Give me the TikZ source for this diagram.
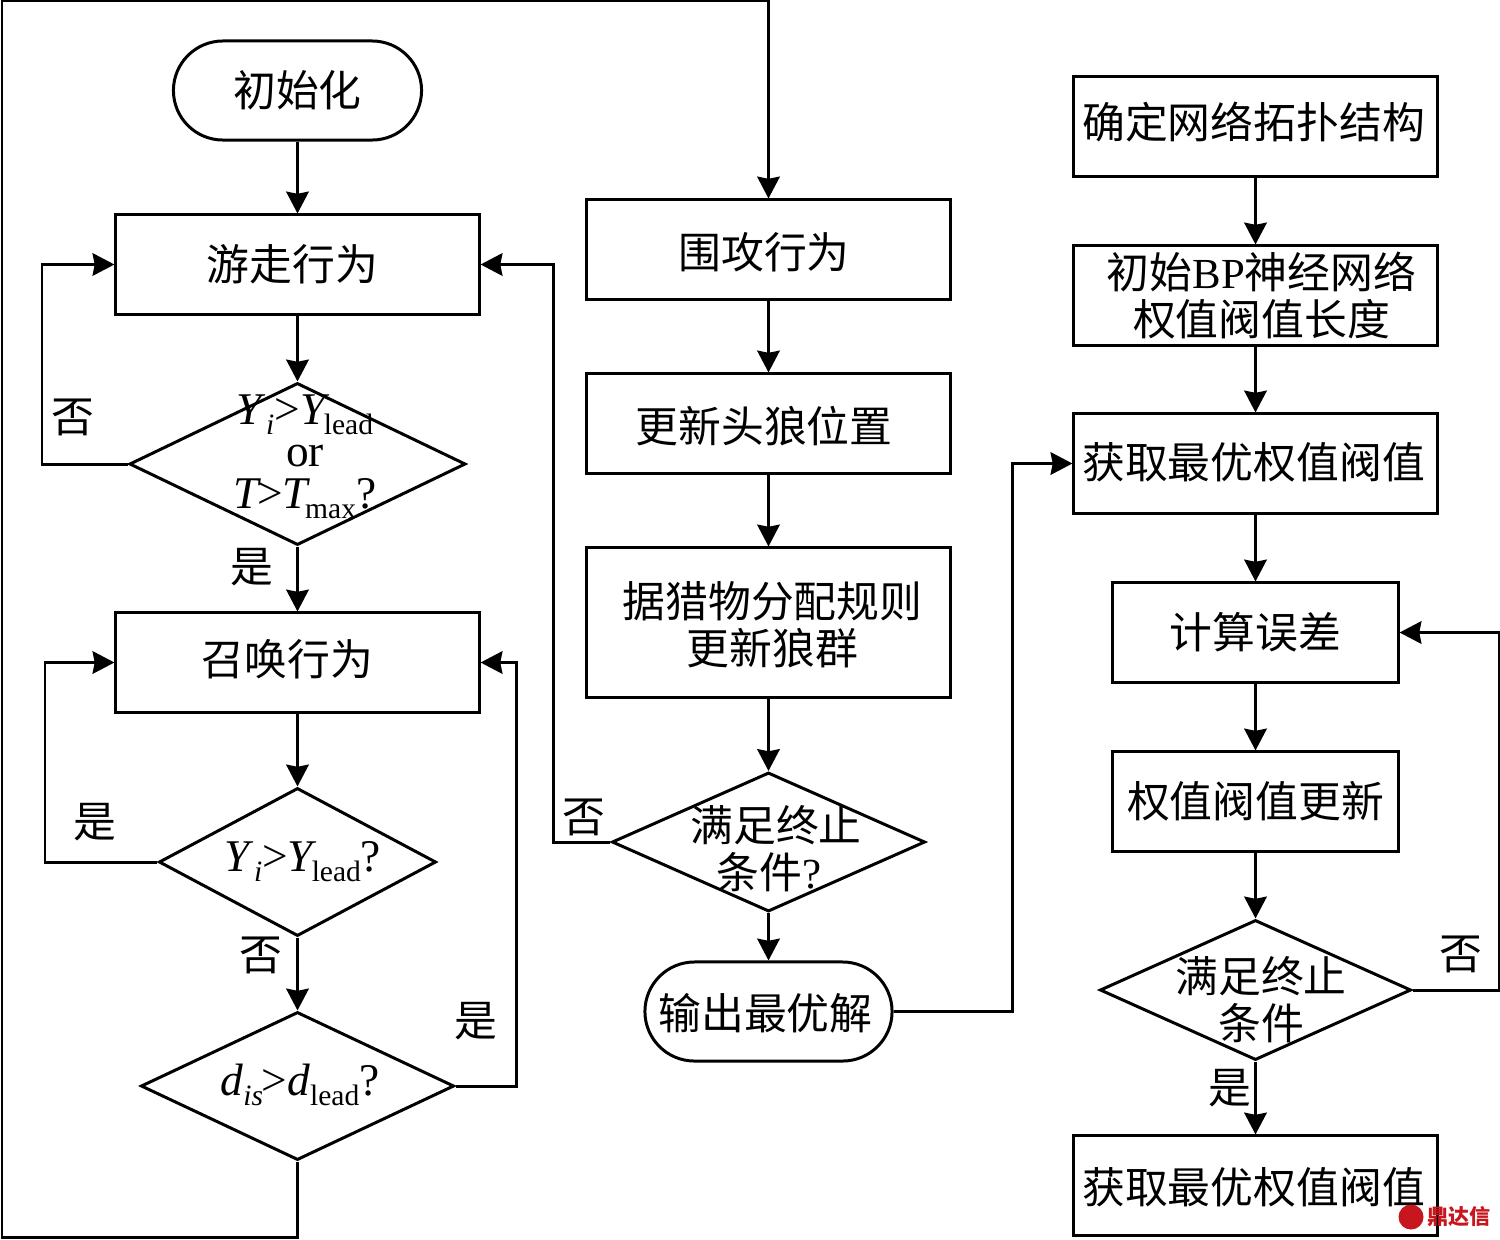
\documentclass[tikz,border=0pt]{standalone}
\usepackage{fontspec}
\setmainfont{Liberation Serif}
\newfontfamily\cnfont{Noto Sans CJK SC}
\usetikzlibrary{arrows.meta,shapes.geometric}
\definecolor{wmred}{RGB}{200,22,30}
\newcommand{\zw}{\cnfont\fontsize{12.18}{13.4}\selectfont}
\newcommand{\xb}[1]{\raisebox{-0.22em}{\fontsize{8.4}{9}\selectfont #1}}
\newcommand{\xbk}[1]{\kern-0.12em\xb{#1}}
\newcommand{\bl}[1]{\textit{#1}}
\newcommand{\dn}[2]{\raisebox{#1}[\height][\depth]{#2}}
\tikzset{
    box/.style={draw, line width=0.85pt, rectangle, minimum width=3.63cm, minimum height=0.99cm, inner sep=0pt, align=center, font=\zw},
    term/.style={box, rounded corners=0.495cm},
    dec/.style={draw, line width=0.85pt, diamond, inner sep=0pt, aspect=2},
    lbl/.style={inner sep=0pt, align=center, font=\zw},
    eqn/.style={inner sep=0pt, align=center, font=\fontsize{12.9}{12}\selectfont},
    arr/.style={-{Stealth[length=6.2pt,width=6.4pt,inset=0.6pt]}, line width=0.85pt}
}
\begin{document}
\begin{tikzpicture}[x=0.01cm,y=-0.01cm]
    \useasboundingbox (0,0) rectangle (1500,1239);
    \node[term, minimum width=2.48cm] (init) at (297.5,90.5) {初始化};
    \node[box] (walk) at (297.5,264.5) {\kern-0.1cm 游走行为};
    \node[dec, minimum width=3.36cm, minimum height=1.62cm] (jd1) at (297.5,464) {};
    \node[box] (call) at (297.5,662.5) {\kern-0.2cm \dn{0.03cm}{召唤行为}};
    \node[dec, minimum width=2.77cm, minimum height=1.48cm] (jd2) at (297.5,862) {};
    \node[dec, minimum width=3.13cm, minimum height=1.48cm] (jd3) at (297.5,1086) {};
    \node[box] (siege) at (768.5,249.5) {\kern-0.09cm \dn{-0.03cm}{围攻行为}};
    \node[box] (head) at (768.5,423.5) {\kern-0.09cm \dn{-0.03cm}{更新头狼位置}};
    \node[box, minimum height=1.49cm] (alloc) at (768.5,622.5) {};
    \node[dec, minimum width=3.13cm, minimum height=1.39cm] (jd4) at (768.5,842) {};
    \node[term, minimum width=2.47cm] (out) at (768.5,1011.5) {\kern-0.06cm \dn{-0.02cm}{输出最优解}};
    \node[box] (net) at (1255.5,126.5) {\kern-0.04cm \dn{0.04cm}{确定网络拓扑结构}};
    \node[box] (bp) at (1255.5,295.5) {\kern0.12cm 初始{\rmfamily BP}神经网络\\\kern0.12cm 权值阀值长度};
    \node[box] (best) at (1255.5,463.5) {\kern-0.04cm \dn{0.01cm}{获取最优权值阀值}};
    \node[box, minimum width=2.85cm] (err) at (1255.5,632.5) {计算误差};
    \node[box, minimum width=2.86cm] (upd) at (1255.5,801.5) {权值阀值更新};
    \node[dec, minimum width=3.11cm, minimum height=1.4cm] (jd5) at (1255.5,990) {};
    \node[box] (last) at (1255.5,1185.5) {\kern-0.04cm \dn{-0.02cm}{获取最优权值阀值}};

    \node[eqn] (t1) at (305,457) {\bl{Y}\xb{\bl{i}}>\bl{Y}\xbk{lead}\\or\\\bl{T}\kern-0.1em>\bl{T}\xbk{max}?};
    \node[eqn] (t2) at (303,862) {\bl{Y}\xb{\bl{i}}>\bl{Y}\xbk{lead}?};
    \node[eqn] (t3) at (300,1085) {\bl{d}\xb{\bl{is}}\kern-0.03em>\bl{d}\xb{lead}?};
    \node[lbl] (t4) at (772,849) {\kern0.08cm 满足终止\\\kern-0.06cm 条件{\rmfamily ?}};
    \node[lbl] (t5) at (1261,999.5) {满足终止\\条件};
    \node[lbl] (t6) at (772.5,625) {据猎物分配规则\\更新狼群};

    \node[lbl] (n1) at (73,417) {否};
    \node[lbl] (y1) at (252,567) {是};
    \node[lbl] (y2) at (95,822) {是};
    \node[lbl] (n2) at (261,955) {否};
    \node[lbl] (y3) at (476,1021) {是};
    \node[lbl] (n3) at (584,817) {否};
    \node[lbl] (n4) at (1461,954) {否};
    \node[lbl] (y4) at (1230,1088) {是};

    \coordinate (c1) at (42,464);
    \coordinate (c2) at (45,862);
    \coordinate (c3) at (516,1086);
    \coordinate (c4) at (553,842);
    \coordinate (c5) at (1012,1011.5);
    \coordinate (c6) at (1499,990);
    \coordinate (r1) at (297.5,1237.5);
    \coordinate (r2) at (2,1237.5);
    \coordinate (r3) at (2,1);
    \coordinate (r4) at (768.5,1);

    \draw[arr] (init) -- (walk);
    \draw[arr] (walk) -- (jd1);
    \draw[arr] (jd1) -- (call);
    \draw[arr] (call) -- (jd2);
    \draw[arr] (jd2) -- (jd3);
    \draw[arr] (siege) -- (head);
    \draw[arr] (head) -- (alloc);
    \draw[arr] (alloc) -- (jd4);
    \draw[arr] (jd4) -- (out);
    \draw[arr] (net) -- (bp);
    \draw[arr] (bp) -- (best);
    \draw[arr] (best) -- (err);
    \draw[arr] (err) -- (upd);
    \draw[arr] (upd) -- (jd5);
    \draw[arr] (jd5) -- (last);
    \draw[arr] (jd1.west) -- (c1) |- (walk.west);
    \draw[arr] (jd2.west) -- (c2) |- (call.west);
    \draw[arr] (jd3.east) -- (c3) |- (call.east);
    \draw[arr] (jd4.west) -- (c4) |- (walk.east);
    \draw[arr] (out.east) -- (c5) |- (best.west);
    \draw[arr] (jd5.east) -- (c6) |- (err.east);
    \draw[arr] (jd3.south) -- (r1) -- (r2) -- (r3) -- (r4) -- (siege.north);

    \node[circle, fill=wmred, minimum size=0.25cm, inner sep=0pt] (logo) at (1411,1217) {};
    \node[inner sep=0pt, text=wmred, font=\cnfont\bfseries\fontsize{6}{6}\selectfont] (mark) at (1459,1217) {鼎达信};
\end{tikzpicture}
\end{document}
